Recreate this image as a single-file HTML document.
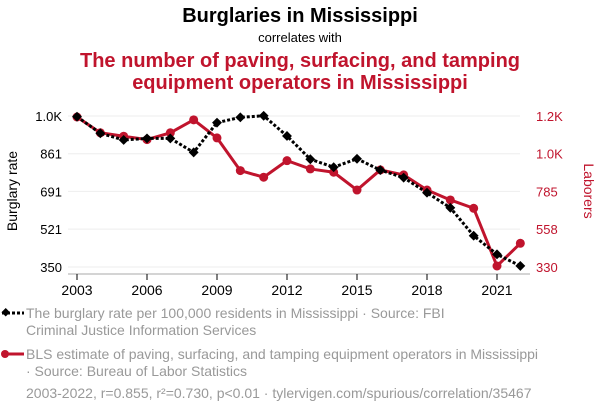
<!DOCTYPE html>
<html><head><meta charset="utf-8"><style>
body{margin:0;background:#fff;font-family:"Liberation Sans",sans-serif;}
svg text{font-family:"Liberation Sans",sans-serif;}
</style></head><body>
<svg width="600" height="414" id="c">
<text x="300" y="22" text-anchor="middle" font-size="20" font-weight="bold" fill="#000">Burglaries in Mississippi</text>
<text x="300" y="42" text-anchor="middle" font-size="13" fill="#000">correlates with</text>
<text x="300" y="67" text-anchor="middle" font-size="20" font-weight="bold" fill="#c0142d">The number of paving, surfacing, and tamping</text>
<text x="300" y="89" text-anchor="middle" font-size="20" font-weight="bold" fill="#c0142d">equipment operators in Mississippi</text>
<text transform="translate(17,191) rotate(-90)" text-anchor="middle" font-size="14" fill="#000">Burglary rate</text>
<text transform="translate(584,191) rotate(90)" text-anchor="middle" font-size="14" fill="#c0142d">Laborers</text>
<g id="grid"></g><g id="axes"></g><g id="series"></g>
<g>
<line x1="2" y1="313" x2="24" y2="313" stroke="#000" stroke-width="3" stroke-dasharray="3,2"/>
<rect x="2" y="309" width="6" height="6" transform="rotate(45 5 313)" fill="#000"/>
<text x="26" y="318" font-size="14" fill="#999">The burglary rate per 100,000 residents in Mississippi · Source: FBI</text>
<text x="26" y="335" font-size="14" fill="#999">Criminal Justice Information Services</text>
</g>
<g>
<line x1="2" y1="354" x2="24" y2="354" stroke="#c0142d" stroke-width="3"/>
<circle cx="5" cy="354" r="4" fill="#c0142d"/>
<text x="26" y="359" font-size="14" fill="#999">BLS estimate of paving, surfacing, and tamping equipment operators in Mississippi</text>
<text x="26" y="376" font-size="14" fill="#999">· Source: Bureau of Labor Statistics</text>
</g>
<text x="26" y="398" font-size="14" fill="#999">2003-2022, r=0.855, r²=0.730, p&lt;0.01 · tylervigen.com/spurious/correlation/35467</text>
</svg>
<script>
const years=[2003,2004,2005,2006,2007,2008,2009,2010,2011,2012,2013,2014,2015,2016,2017,2018,2019,2020,2021,2022];
const burglary=[1028,953,923,930,930,867,1001,1025,1032,941,836,800,838,787,753,685,617,491,407,355];
const laborers=[1234,1139,1118,1098,1139,1217,1108,911,871,971,921,901,794,915,885,794,734,684,336,473];
const leftTicks=[350,521,691,861,1031];
const leftLabels=["350","521","691","861","1.0K"];
const rightTicks=[330,558,785,1013,1240];
const rightLabels=["330","558","785","1.0K","1.2K"];
const xTicks=[2003,2006,2009,2012,2015,2018,2021];
const NS="http://www.w3.org/2000/svg";
const x=v=>77+(v-2003)*(420/18);
const yl=v=>267-(v-350)*151/681;
const yr=v=>267-(v-330)*151/910;
function mk(t,a,p){const e=document.createElementNS(NS,t);for(const k in a)e.setAttribute(k,a[k]);p.appendChild(e);return e;}
const grid=document.getElementById('grid'),axes=document.getElementById('axes'),ser=document.getElementById('series');
leftTicks.forEach((v,i)=>{
 const g=mk('line',{x1:68,x2:520,y1:yl(v),y2:yl(v),stroke:'#eee','stroke-width':1},grid);
 
 
 const t=mk('text',{x:62,y:yl(v)+5,'text-anchor':'end','font-size':13,fill:'#000'},axes);t.textContent=leftLabels[i];
 
 
});
rightTicks.forEach((v,i)=>{
 const t=mk('text',{x:536,y:yr(v)+5,'font-size':13,fill:'#c0142d'},axes);t.textContent=rightLabels[i];
 
 
});
const ax=mk('line',{x1:68,x2:530,y1:274,y2:274,stroke:'#aaa','stroke-width':1},axes);


xTicks.forEach(v=>{
 mk('line',{x1:x(v),x2:x(v),y1:274,y2:280,stroke:'#000','stroke-width':1},axes);
 const t=mk('text',{x:x(v),y:295,'text-anchor':'middle','font-size':14,fill:'#000'},axes);t.textContent=v;
 
 
});
const rl=mk('polyline',{points:years.map((y,i)=>x(y)+','+yr(laborers[i])).join(' '),fill:'none',stroke:'#c0142d','stroke-width':3,'stroke-linejoin':'round'},ser);


years.forEach((y,i)=>{const c=mk('circle',{cx:x(y),cy:yr(laborers[i]),r:4.5,fill:'#c0142d'},ser);
 
 });
const bl=mk('polyline',{points:years.map((y,i)=>x(y)+','+yl(burglary[i])).join(' '),fill:'none',stroke:'#000','stroke-width':3,'stroke-dasharray':'3,2'},ser);


years.forEach((y,i)=>{const px=x(y),py=yl(burglary[i]);
 const r=mk('rect',{x:px-3.5,y:py-3.5,width:7,height:7,fill:'#000',transform:`rotate(45 ${px} ${py})`},ser);
 
 });
</script>
</body></html>
